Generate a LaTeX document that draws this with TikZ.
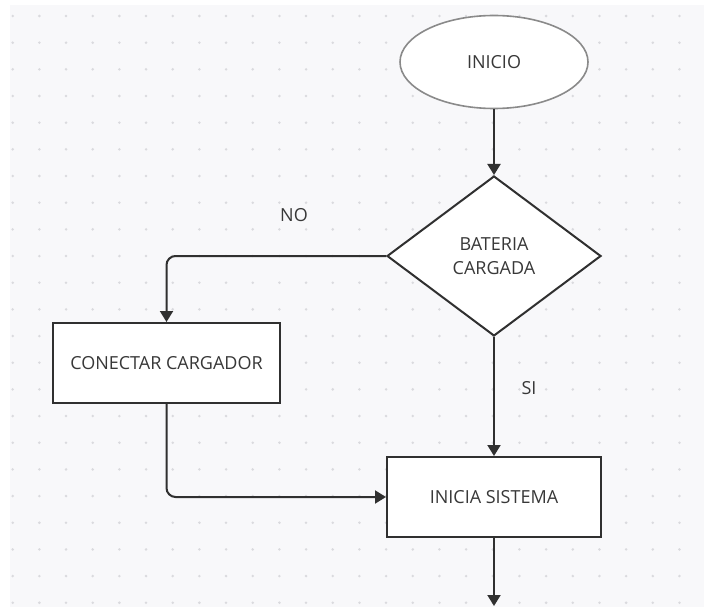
\documentclass[tikz,border=0pt]{standalone}
\usepackage{fontspec}
\setmainfont{Open Sans}
\usetikzlibrary{shapes.geometric,arrows.meta}
\definecolor{bgc}{HTML}{F8F8FA}
\definecolor{dotc}{HTML}{DADADE}
\definecolor{linec}{HTML}{303030}
\definecolor{txtc}{HTML}{383838}
\definecolor{ellc}{HTML}{8A8A8A}
\tikzset{
  lbl/.style={text=txtc, font=\fontsize{18}{24}\selectfont},
  boxnode/.style={lbl, draw=linec, line width=2pt, fill=white, minimum width=227pt, minimum height=80pt, inner sep=0pt},
  startnode/.style={lbl, ellipse, draw=ellc, line width=1.6pt, fill=white, minimum width=188pt, minimum height=93pt, inner sep=0pt},
  decnode/.style={lbl, diamond, draw=linec, line width=2pt, fill=white, minimum width=214pt, minimum height=160pt, aspect=1.34, inner sep=0pt, align=center},
  conn/.style={draw=linec, line width=2pt, -{Triangle[width=13pt,length=11pt]}, rounded corners=9pt}
}
\begin{document}
\begin{tikzpicture}[x=1pt,y=-1pt]
\useasboundingbox (0,0) rectangle (704,607);
\fill[white] (0,0) rectangle (704,607);
\fill[bgc] (10,5) rectangle (704,607);
\foreach \i in {0,...,26} {
  \foreach \j in {0,...,22} {
    \fill[dotc] (12.7+26.67*\i, 16+26.67*\j) circle (1.4pt);
  }
}
\node[startnode] (inicio) at (494,62) {INICIO};
\node[decnode] (bat) at (494,256) {BATERIA\\CARGADA};
\node[boxnode] (con) at (166.5,363) {CONECTAR CARGADOR};
\node[boxnode, minimum width=214pt] (sis) at (494,497) {INICIA SISTEMA};
\coordinate (fin) at (494,606);
\node[lbl] (no) at (294,215) {NO};
\node[lbl] (si) at (529,388) {SI};
\draw[conn] (inicio) -- (bat);
\draw[conn] (bat.west) -| (con.north);
\draw[conn] (bat) -- (sis);
\draw[conn] (con.south) |- (sis.west);
\draw[conn] (sis) -- (fin);
\end{tikzpicture}
\end{document}
